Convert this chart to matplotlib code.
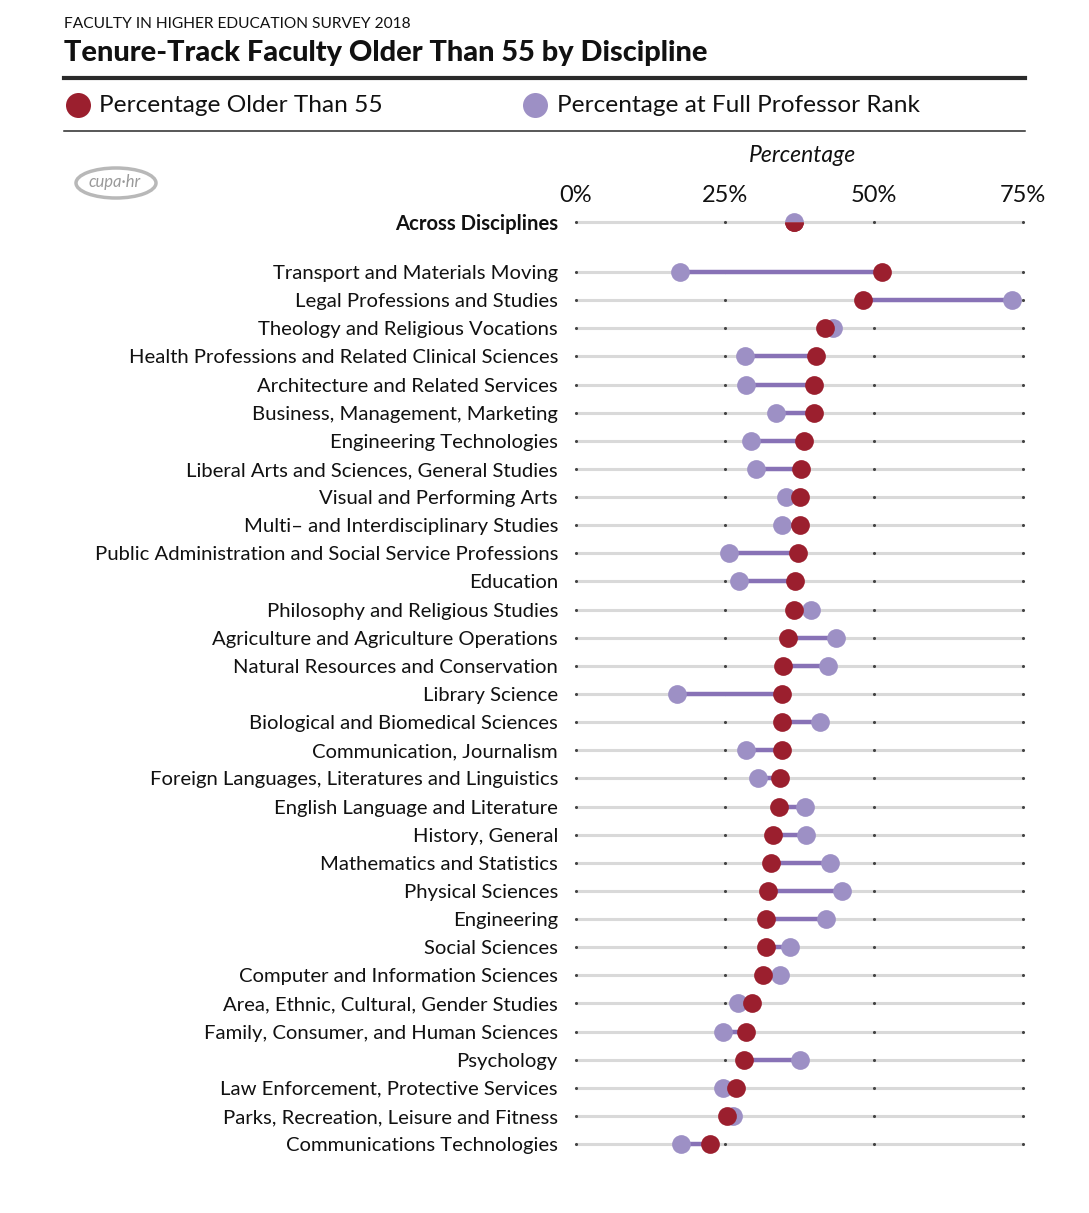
import matplotlib
matplotlib.use("Agg")
import matplotlib.pyplot as plt
from matplotlib.patches import Ellipse
from matplotlib.lines import Line2D

plt.rcParams['font.family'] = ['Lato', 'DejaVu Sans']

overall_label = "Across Disciplines"
overall_older55 = 36.5
overall_fullprof = 36.5

disciplines = [
    "Transport and Materials Moving",
    "Legal Professions and Studies",
    "Theology and Religious Vocations",
    "Health Professions and Related Clinical Sciences",
    "Architecture and Related Services",
    "Business, Management, Marketing",
    "Engineering Technologies",
    "Liberal Arts and Sciences, General Studies",
    "Visual and Performing Arts",
    "Multi\u2013 and Interdisciplinary Studies",
    "Public Administration and Social Service Professions",
    "Education",
    "Philosophy and Religious Studies",
    "Agriculture and Agriculture Operations",
    "Natural Resources and Conservation",
    "Library Science",
    "Biological and Biomedical Sciences",
    "Communication, Journalism",
    "Foreign Languages, Literatures and Linguistics",
    "English Language and Literature",
    "History, General",
    "Mathematics and Statistics",
    "Physical Sciences",
    "Engineering",
    "Social Sciences",
    "Computer and Information Sciences",
    "Area, Ethnic, Cultural, Gender Studies",
    "Family, Consumer, and Human Sciences",
    "Psychology",
    "Law Enforcement, Protective Services",
    "Parks, Recreation, Leisure and Fitness",
    "Communications Technologies",
]
older55 = [51.3, 48.1, 41.8, 40.3, 40.0, 39.9, 38.2, 37.8, 37.5, 37.5, 37.2,
           36.7, 36.6, 35.6, 34.7, 34.6, 34.5, 34.5, 34.2, 34.1, 33.1, 32.8,
           32.2, 31.9, 31.9, 31.4, 29.5, 28.5, 28.2, 26.9, 25.3, 22.4]
fullprof = [17.4, 73.2, 43.1, 28.4, 28.6, 33.5, 29.4, 30.2, 35.3, 34.5, 25.7,
            27.3, 39.4, 43.6, 42.3, 16.9, 40.9, 28.6, 30.6, 38.4, 38.6, 42.6,
            44.6, 41.9, 35.9, 34.3, 27.2, 24.7, 37.5, 24.7, 26.4, 17.7]
x_ticks = [0, 25, 50, 75]
x_tick_labels = ["0%", "25%", "50%", "75%"]

RED = "#9b1f2e"
PURPLE = "#9d90c5"
PURPLE_LINE = "#8872b6"
GRID = "#d9d9d9"

W, H = 1089, 1213
fig = plt.figure(figsize=(W / 100, H / 100), dpi=100)

def fx(px):
    return px / W

def fy(py):
    return 1 - py / H

ax_left, ax_right = 576, 1023
ax_top, ax_bot = 205, 1160
ax = fig.add_axes([fx(ax_left), fy(ax_bot), (ax_right - ax_left) / W, (ax_bot - ax_top) / H])

gap = 1.78
positions = [0.0] + [gap + i for i in range(len(disciplines))]
row_h = (1144 - 272) / (len(disciplines) - 1)
y_top = -(222 - ax_top) / row_h
y_bot = (ax_bot - 222) / row_h
ax.set_ylim(y_bot, y_top)
ax.set_xlim(0, 75)

all_labels = [overall_label] + disciplines

for y in positions:
    ax.plot([0, 75], [y, y], color=GRID, lw=2.2, zorder=1, solid_capstyle='butt', clip_on=False)
    ax.scatter(x_ticks, [y] * len(x_ticks), s=5, color="#444444", zorder=1.5, clip_on=False, linewidths=0)

for y, a, b in zip(positions[1:], older55, fullprof):
    ax.plot([a, b], [y, y], color=PURPLE_LINE, lw=3.2, zorder=2, solid_capstyle='butt')
    ax.plot(b, y, 'o', color=PURPLE, ms=13.5, mec='none', zorder=3, clip_on=False)
    ax.plot(a, y, 'o', color=RED, ms=13.5, mec='none', zorder=4, clip_on=False)

ax.plot(overall_fullprof, positions[0], 'o', ms=13.5, fillstyle='top', color=PURPLE,
        markerfacecoloralt=RED, mec='none', zorder=4, clip_on=False)
ax.plot(overall_older55, positions[0], 'o', ms=13.5, fillstyle='bottom', color=RED,
        mec='none', zorder=5, clip_on=False)

ax.set_yticks(positions)
ax.set_yticklabels(all_labels, fontsize=14.6, color="#111111")
ax.get_yticklabels()[0].set_fontweight('bold')
ax.tick_params(axis='y', length=0, pad=13)

ax.xaxis.tick_top()
ax.set_xticks(x_ticks)
ax.set_xticklabels(x_tick_labels, fontsize=17, color="#111111")
ax.tick_params(axis='x', length=0, pad=-1)
for s in ax.spines.values():
    s.set_visible(False)
ax.set_facecolor('none')

fig.text(fx(803), fy(156), "Percentage", fontsize=16.5, style='italic', ha='center', va='center', color="#111111")

fig.text(fx(64), fy(24), "FACULTY IN HIGHER EDUCATION SURVEY 2018", fontsize=11.2, ha='left', va='center',
         color="#111111")
fig.text(fx(64), fy(53), "Tenure-Track Faculty Older Than 55 by Discipline", fontsize=20.8, fontweight='black',
         ha='left', va='center', color="#111111")
fig.add_artist(Line2D([fx(64), fx(1025)], [fy(78), fy(78)], color="#2a2a2a", lw=3, transform=fig.transFigure))
fig.add_artist(Line2D([fx(64), fx(1025)], [fy(131), fy(131)], color="#2a2a2a", lw=1.1, transform=fig.transFigure))

fig.add_artist(Line2D([fx(78)], [fy(105)], marker='o', ms=18, color=RED, mec='none', transform=fig.transFigure))
fig.text(fx(99), fy(106), "Percentage Older Than 55", fontsize=17.6, ha='left', va='center', color="#111111")
fig.add_artist(Line2D([fx(535)], [fy(105)], marker='o', ms=18, color=PURPLE, mec='none', transform=fig.transFigure))
fig.text(fx(557), fy(106), "Percentage at Full Professor Rank", fontsize=17.6, ha='left', va='center', color="#111111")

fig.add_artist(Ellipse((fx(116), fy(183)), 80 / W, 30 / H, fill=False, ec="#b8b8b8", lw=2.5,
                       transform=fig.transFigure))
fig.text(fx(115), fy(182), "cupa\u00b7hr", fontsize=12, ha='center', va='center', color="#9a9a9a",
         fontstyle='italic')

fig.savefig("out.png", dpi=100, facecolor='white')
